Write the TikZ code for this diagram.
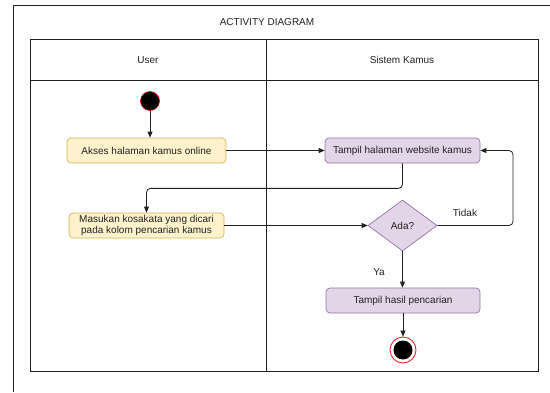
\documentclass[tikz,border=0pt]{standalone}
\usepackage{fontspec}
\setmainfont{Liberation Sans}
\usetikzlibrary{arrows.meta,shapes.geometric}
\definecolor{userfill}{HTML}{FFF2CC}
\definecolor{userline}{HTML}{D6B656}
\definecolor{sysfill}{HTML}{E1D5E7}
\definecolor{sysline}{HTML}{9673A6}
\definecolor{ink}{HTML}{222222}
\tikzset{
  frame/.style={draw=ink, line width=0.8pt},
  userbox/.style={draw=userline, fill=userfill, rounded corners=4pt, line width=0.7pt,
    minimum height=25pt, align=center, font=\fontsize{10}{11.5}\selectfont, text=ink, inner sep=1pt},
  sysbox/.style={draw=sysline, fill=sysfill, rounded corners=4pt, line width=0.7pt,
    minimum width=155pt, minimum height=25pt, align=center, font=\fontsize{10}{11.5}\selectfont, text=ink},
  decision/.style={diamond, draw=sysline, fill=sysfill, line width=0.7pt, aspect=1.35,
    minimum width=69pt, minimum height=51pt, inner sep=0pt, font=\fontsize{10}{12}\selectfont, text=ink},
  flow/.style={draw=ink, line width=0.8pt, -{Triangle[length=6pt,width=5pt]}, rounded corners=4pt},
  lbl/.style={font=\fontsize{10}{12}\selectfont, text=ink},
}
\begin{document}
\begin{tikzpicture}[x=1pt,y=-1pt]
\useasboundingbox (0,0) rectangle (550,392);
% outer frame (top and left edges)
\draw[frame] (13,392) -- (13,5) -- (550,5);
\node[lbl] (title) at (267,22) {ACTIVITY DIAGRAM};
% swimlanes
\draw[frame] (30,39) rectangle (538,371);
\draw[frame] (30,80) -- (538,80);
\draw[frame] (266,39) -- (266,371);
\node[lbl] (laneuser) at (148,60) {User};
\node[lbl] (lanesys) at (402,60) {Sistem Kamus};
% start and end
\node[circle, fill=black, draw=red, line width=0.6pt, minimum size=19pt, inner sep=0pt] (start) at (150,101) {};
\node[circle, draw=red!85, fill=white, line width=0.9pt, minimum size=26pt, inner sep=0pt] (endo) at (403,350) {};
\node[circle, fill=black, minimum size=19pt, inner sep=0pt] (endi) at (403,350) {};
% activities
\node[userbox, minimum width=159pt] (akses) at (146.5,150.5) {Akses halaman kamus online};
\node[userbox, minimum width=155pt] (masuk) at (146.5,225.5) {Masukan kosakata yang dicari\\pada kolom pencarian kamus};
\node[sysbox] (tampil) at (402.5,150.5) {Tampil halaman website kamus};
\node[decision] (ada) at (402.5,225.5) {Ada?};
\node[sysbox, minimum width=154pt] (hasil) at (403,300.5) {Tampil hasil pencarian};
% flows
\draw[flow] (start) -- (start |- akses.north);
\draw[flow] (akses) -- (tampil);
\draw[flow] (tampil.south) -- ++(0,25) -| (masuk.north);
\draw[flow] (masuk) -- (ada);
\draw[flow] (ada.east) -- (513,225.5) |- (tampil.east);
\draw[flow] (ada) -- (ada |- hasil.north);
\draw[flow] (hasil) -- (endo);
\node[lbl] (tidak) at (465,213) {Tidak};
\node[lbl] (ya) at (379,272) {Ya};
\end{tikzpicture}
\end{document}
